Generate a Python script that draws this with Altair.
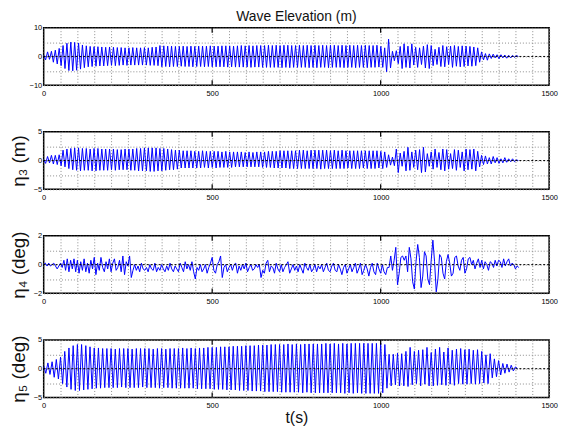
import altair as alt
import pandas as pd

# ---- data (turning points / samples) ----
wave_half_period = 5.75  # s between successive extrema
wave = [
    0.5, -1.2, 1.6, -1.0, 1.8, -2.0, 2.2, -2.6, 2.8, -3.2,
    3.8, -4.2, 4.6, -4.9, 5.0, -5.0, 4.9, -4.8, 4.7, -4.4,
    4.0, -3.9, 3.7, -3.6, 3.5, -3.5, 3.4, -3.4, 3.4, -3.3,
    3.3, -3.3, 3.2, -3.2, 3.3, -3.1, 3.2, -3.2, 3.1, -3.1,
    3.1, -3.0, 3.0, -3.1, 3.0, -3.0, 3.1, -3.0, 3.0, -3.0,
    3.0, -3.0, 3.1, -3.0, 3.0, -3.1, 3.2, -3.1, 3.3, -3.2,
    3.8, -3.6, 3.7, -3.5, 3.6, -3.6, 3.6, -3.5, 3.5, -3.5,
    3.5, -3.4, 3.6, -3.5, 3.5, -3.5, 3.6, -3.6, 3.5, -3.5,
    3.6, -3.5, 3.6, -3.6, 3.6, -3.5, 3.7, -3.6, 3.6, -3.6,
    3.6, -3.6, 3.7, -3.6, 3.7, -3.7, 3.7, -3.6, 3.6, -3.7,
    3.7, -3.7, 3.8, -3.7, 3.7, -3.7, 3.8, -3.8, 3.7, -3.7,
    3.8, -3.7, 3.8, -3.8, 3.8, -3.8, 3.9, -3.8, 3.8, -3.8,
    3.9, -3.8, 3.8, -3.9, 3.9, -3.8, 3.9, -3.9, 3.8, -3.8,
    3.8, -3.8, 3.9, -3.8, 3.8, -3.8, 3.9, -3.9, 3.8, -3.8,
    3.9, -3.9, 3.8, -3.8, 3.9, -3.8, 3.8, -3.9, 3.9, -3.8,
    3.9, -3.8, 3.8, -3.8, 3.9, -3.9, 3.8, -3.8, 3.9, -3.8,
    3.8, -3.9, 3.9, -3.8, 3.8, -3.8, 3.9, -3.9, 3.8, -3.8,
    3.8, -3.8, 3.9, -3.7, 3.5, -3.8, 3.0, -5.3, 6.0, -4.0,
    1.8, -1.5, 2.0, -2.5, 3.5, -4.2, 4.4, -3.8, 3.6, -4.0,
    4.4, -3.0, 3.2, -3.8, 3.0, -2.8, 3.6, -4.0, 4.1, -4.2,
    3.8, -3.2, 2.5, -2.8, 3.2, -3.5, 3.8, -3.6, 3.4, -2.8,
    3.6, -3.8, 3.8, -3.4, 3.5, -3.6, 3.7, -3.5, 3.6, -3.3,
    3.5, -3.4, 3.3, -3.2, 3.0, -2.0, 1.6, -1.2, 1.0, -1.3,
    0.9, -0.7, 0.8, -0.5, 0.6, -0.8, 0.6, -0.5, 0.5, -0.6,
    0.4, -0.5, 0.4, -0.3, 0.3, 0.0,
]

heave_half_period = 5.75
heave = [
    0.2, -0.5, 0.7, -0.4, 0.9, -0.6, 0.9, -0.7, 1.0, -0.9,
    1.8, -1.1, 2.0, -1.4, 2.1, -1.6, 2.2, -1.7, 2.2, -1.8,
    2.1, -1.7, 2.1, -1.7, 2.0, -1.8, 2.1, -1.8, 2.1, -1.7,
    2.0, -1.7, 2.0, -1.7, 2.0, -1.6, 2.0, -1.7, 1.9, -1.6,
    1.9, -1.6, 2.0, -1.6, 2.0, -1.7, 2.0, -1.7, 2.1, -1.8,
    2.1, -1.8, 2.2, -1.8, 2.2, -1.9, 2.2, -1.9, 2.2, -1.8,
    2.1, -1.8, 2.1, -1.7, 2.0, -1.6, 1.9, -1.6, 1.8, -1.5,
    1.8, -1.3, 1.7, -1.3, 1.7, -1.3, 1.7, -1.3, 1.6, -1.3,
    1.6, -1.3, 1.7, -1.2, 1.6, -1.3, 1.6, -1.2, 1.6, -1.3,
    1.6, -1.2, 1.5, -1.2, 1.6, -1.2, 1.5, -1.2, 1.5, -1.1,
    1.5, -1.1, 1.5, -1.1, 1.4, -1.1, 1.5, -1.1, 1.4, -1.1,
    1.5, -1.1, 1.5, -1.2, 1.5, -1.2, 1.6, -1.2, 1.6, -1.3,
    1.6, -1.3, 1.7, -1.3, 1.7, -1.3, 1.7, -1.4, 1.7, -1.4,
    1.7, -1.4, 1.8, -1.4, 1.8, -1.4, 1.7, -1.4, 1.8, -1.4,
    1.8, -1.4, 1.8, -1.5, 1.8, -1.4, 1.8, -1.4, 1.7, -1.4,
    1.8, -1.4, 1.7, -1.4, 1.8, -1.4, 1.7, -1.3, 1.7, -1.4,
    1.7, -1.4, 1.7, -1.4, 1.7, -1.3, 1.7, -1.4, 1.7, -1.4,
    1.7, -1.4, 1.7, -1.3, 1.6, -1.4, 1.5, -1.2, 1.0, -0.8,
    0.6, -0.9, 2.0, -2.1, 1.3, -1.0, 1.6, -1.8, 2.3, -1.7,
    1.5, -1.2, 1.8, -1.6, 1.9, -2.1, 2.3, -2.0, 1.2, -1.0,
    1.5, -1.5, 2.0, -1.2, 1.4, -1.6, 2.0, -1.8, 1.9, -1.5,
    1.2, -1.4, 1.9, -1.7, 1.8, -1.2, 1.5, -1.8, 2.0, -1.6,
    1.9, -1.5, 2.0, -1.8, 1.6, -1.1, 0.9, -0.7, 0.8, -0.6,
    0.5, -0.6, 0.7, -0.4, 0.5, -0.5, 0.3, -0.4, 0.5, -0.3,
    0.3, -0.2, 0.3, -0.2, 0.1, 0.0,
]

roll_step = 5.0  # s between samples
roll = [
    0.0, 0.1, -0.1, 0.1, -0.1, 0.0, 0.1, -0.1, -0.3, -0.1,
    0.1, -0.2, 0.3, -0.4, 0.4, -0.5, 0.3, -0.3, 0.4, -0.5,
    0.3, -0.6, 0.2, -0.4, 0.4, -0.5, 0.1, -0.6, 0.3, -0.3,
    0.5, -0.7, 0.1, -0.4, 0.5, -0.2, -0.5, 0.2, -0.3, 0.4,
    -0.5, 0.1, 0.4, -0.4, -0.2, 0.3, -0.5, 0.6, -0.7, 0.2,
    -0.1, 0.6, -0.9, -0.4, 0.0, -0.4, -0.1, -0.5, 0.1, -0.3,
    -0.4, -0.2, -0.5, 0.0, -0.3, -0.4, 0.1, -0.5, -0.2, -0.4,
    0.0, -0.3, -0.5, -0.1, -0.4, 0.1, -0.3, -0.5, -0.1, -0.3,
    -0.5, 0.1, -0.2, -0.5, 0.2, -0.3, 0.0, -0.4, 0.2, -0.5,
    -1.0, -0.2, -0.4, 0.0, -0.5, -0.3, 0.0, -0.6, -0.2, 0.1,
    0.5, -0.4, -0.6, 0.0, 0.2, 0.6, -0.9, -0.2, 0.0, -0.5,
    -0.2, 0.0, -0.4, 0.0, 0.1, -0.6, -0.1, -0.4, 0.0, -0.3,
    0.1, -0.5, -0.2, 0.0, -0.4, -0.3, 0.0, -0.2, 0.0, -0.9,
    -0.4, -0.6, 0.1, 0.3, -0.5, -0.1, -0.2, -0.6, 0.1, -0.3,
    -0.5, 0.0, -0.5, -0.2, 0.0, 0.2, -0.6, -0.3, 0.0, -0.4,
    -0.1, -0.5, 0.0, -0.3, -0.6, 0.1, -0.2, -0.4, 0.0, -0.5,
    -0.3, 0.0, -0.5, -0.1, -0.3, 0.0, -0.5, -0.2, 0.1, -0.4,
    -0.5, -0.1, 0.1, -0.4, -0.5, 0.0, -0.3, -0.7, -0.2, 0.0,
    -0.6, -0.3, 0.0, -0.5, -0.2, 0.1, -0.6, -0.3, 0.1, -0.7,
    -0.4, 0.0, -0.3, -0.8, -0.2, 0.1, -0.5, -0.7, 0.1, -0.3,
    -0.6, 0.0, -0.5, -0.7, -0.2,
    -0.2, 0.6, -0.4, 0.3, 1.2, -1.4, -0.6, 0.5, 0.6, 0.3,
    0.6, -0.5, 1.2, 0.4, -1.2, -1.7, 0.2, 1.4, 0.5, -1.6,
    -0.8, 0.9, 0.6, -1.0, -1.4, 0.3, 1.7, 0.2, -1.9, -1.0,
    0.7, 0.5, -0.6, -1.0, 0.2, 0.7, 0.1, -0.8, -0.6, 0.5,
    0.6, -0.1, -0.4, 0.3, 0.5, -0.6, -0.3, 0.4, 0.5, 0.0,
    0.3, -0.3, 0.1, 0.4, -0.2, 0.3, -0.3, 0.2, 0.0, -0.4,
    0.2, 0.1, -0.2, 0.3, -0.1, 0.3, 0.2, -0.2, 0.4, -0.1,
    0.2, 0.4, -0.1, 0.1, 0.0, -0.3, -0.1, -0.2,
]

pitch_half_period = 6.25
pitch = [
    0.5, -0.8, 1.0, -1.0, 1.2, -1.5, 1.6, -1.8, 2.0, -2.6,
    3.0, -3.2, 3.6, -3.6, 4.0, -3.8, 4.2, -3.8, 4.2, -3.7,
    4.0, -3.6, 3.8, -3.5, 3.6, -3.4, 3.6, -3.4, 3.5, -3.3,
    3.5, -3.3, 3.5, -3.3, 3.4, -3.3, 3.5, -3.2, 3.5, -3.3,
    3.5, -3.3, 3.4, -3.3, 3.5, -3.3, 3.5, -3.2, 3.5, -3.3,
    3.5, -3.3, 3.4, -3.3, 3.5, -3.4, 3.5, -3.3, 3.4, -3.3,
    3.5, -3.4, 3.5, -3.4, 3.5, -3.4, 3.6, -3.4, 3.5, -3.4,
    3.6, -3.4, 3.5, -3.5, 3.6, -3.5, 3.6, -3.5, 3.7, -3.5,
    3.7, -3.6, 3.7, -3.6, 3.8, -3.6, 3.8, -3.7, 3.8, -3.7,
    3.9, -3.7, 3.9, -3.8, 3.9, -3.8, 4.0, -3.8, 4.0, -3.9,
    4.0, -3.9, 4.1, -3.9, 4.1, -4.0, 4.1, -4.0, 4.2, -4.0,
    4.2, -4.0, 4.2, -4.1, 4.2, -4.1, 4.3, -4.1, 4.2, -4.1,
    4.3, -4.1, 4.2, -4.2, 4.3, -4.1, 4.3, -4.2, 4.3, -4.2,
    4.3, -4.2, 4.3, -4.2, 4.4, -4.2, 4.3, -4.2, 4.4, -4.2,
    4.3, -4.2, 4.4, -4.3, 4.3, -4.2, 4.4, -4.3, 4.4, -4.2,
    4.4, -4.3, 4.4, -4.3, 4.4, -4.3, 4.4, -4.3, 4.4, -4.3,
    4.5, -4.2, 4.2, -3.4, 2.5, -3.0, 2.5, -2.8, 2.7, -3.0,
    2.6, -3.0, 3.0, -3.1, 3.7, -2.8, 3.0, -2.6, 3.2, -3.0,
    3.3, -2.7, 3.7, -3.0, 2.8, -3.0, 3.4, -2.9, 3.7, -2.8,
    2.9, -2.9, 3.6, -2.7, 3.2, -2.9, 3.4, -2.6, 3.5, -2.7,
    3.3, -2.7, 3.4, -2.6, 3.2, -2.7, 3.3, -2.6, 3.0, -2.5,
    2.4, -2.6, 2.6, -1.6, 1.7, -1.4, 1.4, -1.1, 0.9, -0.8,
    0.8, -0.6, 0.6, -0.4, 0.3, 0.0,
]

x_grid_values = list(range(0, 1501, 50))
x_tick_marks = [500, 1000]

FONT = "Liberation Sans"
W, H = 510, 58


def panel(vals, step, ydom, ygrid, ylab, ytitle, title=None, xtitle=None):
    df = pd.DataFrame({"t": [round(i * step, 3) for i in range(len(vals))], "v": vals})
    xs = alt.Scale(domain=[0, 1500], nice=False, zero=False)
    ys = alt.Scale(domain=ydom, nice=False, zero=False)
    x_axis_kw = dict(
        values=x_grid_values, grid=True, gridColor="#8c8c8c", gridDash=[1, 2],
        gridWidth=1, ticks=False, domain=False, format="d",
        labelExpr="datum.value % 500 === 0 ? datum.label : ''",
        labelFontSize=7.5, labelFont=FONT, labelColor="#000", labelPadding=4,
        labelOverlap=False, labelFlush=False, labelBound=False,
    )
    if xtitle:
        x_axis_kw.update(title=xtitle, titleFontSize=16, titleFont=FONT,
                         titleFontWeight="normal", titleColor="#111", titlePadding=1)
    else:
        x_axis_kw.update(title=None)
    lab_cond = " || ".join(f"datum.value == {v}" for v in ylab)
    y_axis_kw = dict(
        values=sorted(set(ygrid + ylab)), grid=True, gridColor="#8c8c8c",
        gridDash=[1, 2], gridWidth=1, ticks=False, domain=False,
        labelExpr=f"({lab_cond}) ? datum.label : ''",
        labelFontSize=7.5, labelFont=FONT, labelColor="#000", labelPadding=2,
        labelOverlap=False, labelFlush=False, labelBound=False,
    )
    if ytitle:
        y_axis_kw.update(title=ytitle, titleFontSize=19, titleFont=FONT,
                         titleFontWeight="normal", titleColor="#111", titlePadding=5)
    else:
        y_axis_kw.update(title=None)
    x_axis = alt.Axis(**x_axis_kw)
    y_axis = alt.Axis(**y_axis_kw)

    line = alt.Chart(df).mark_line(color="#0000ff", strokeWidth=1, clip=True).encode(
        x=alt.X("t:Q", scale=xs, axis=x_axis),
        y=alt.Y("v:Q", scale=ys, axis=y_axis),
    )
    zero = alt.Chart(pd.DataFrame({"v": [0]})).mark_rule(
        color="black", strokeDash=[2, 2], strokeWidth=1
    ).encode(y=alt.Y("v:Q", scale=ys, axis=y_axis))
    tdf = pd.DataFrame({"t": x_tick_marks})
    top_ticks = alt.Chart(tdf).mark_rule(color="black", strokeWidth=1.2).encode(
        x=alt.X("t:Q", scale=xs, axis=x_axis), y=alt.value(0), y2=alt.value(5))
    bot_ticks = alt.Chart(tdf).mark_rule(color="black", strokeWidth=1.2).encode(
        x=alt.X("t:Q", scale=xs, axis=x_axis), y=alt.value(H), y2=alt.value(H - 5))
    ch = alt.layer(line, zero, top_ticks, bot_ticks).properties(width=W, height=H)
    if title:
        ch = ch.properties(title=alt.TitleParams(
            title, fontSize=14, font=FONT, fontWeight="normal", color="#111", offset=0))
    return ch


p1 = panel(wave, wave_half_period, [-10, 10], [-5, 5], [-10, 0, 10], None,
           title="Wave Elevation (m)")
p2 = panel(heave, heave_half_period, [-5, 5], [-2.5, 2.5], [-5, 0, 5], "η₃ (m)")
p3 = panel(roll, roll_step, [-2, 2], [-1, 1], [-2, 0, 2], "η₄ (deg)")
p4 = panel(pitch, pitch_half_period, [-5, 5], [-2.5, 2.5], [-5, 0, 5], "η₅ (deg)",
           xtitle="t(s)")

chart = alt.vconcat(p1, p2, p3, p4, spacing=47, bounds="flush").configure_view(
    stroke="black", strokeWidth=1.5
).properties(
    padding={"left": 0, "top": -1, "right": 5, "bottom": 2},
    background="white",
)

chart.save("out.html", embed_options={"renderer": "svg", "actions": False})
